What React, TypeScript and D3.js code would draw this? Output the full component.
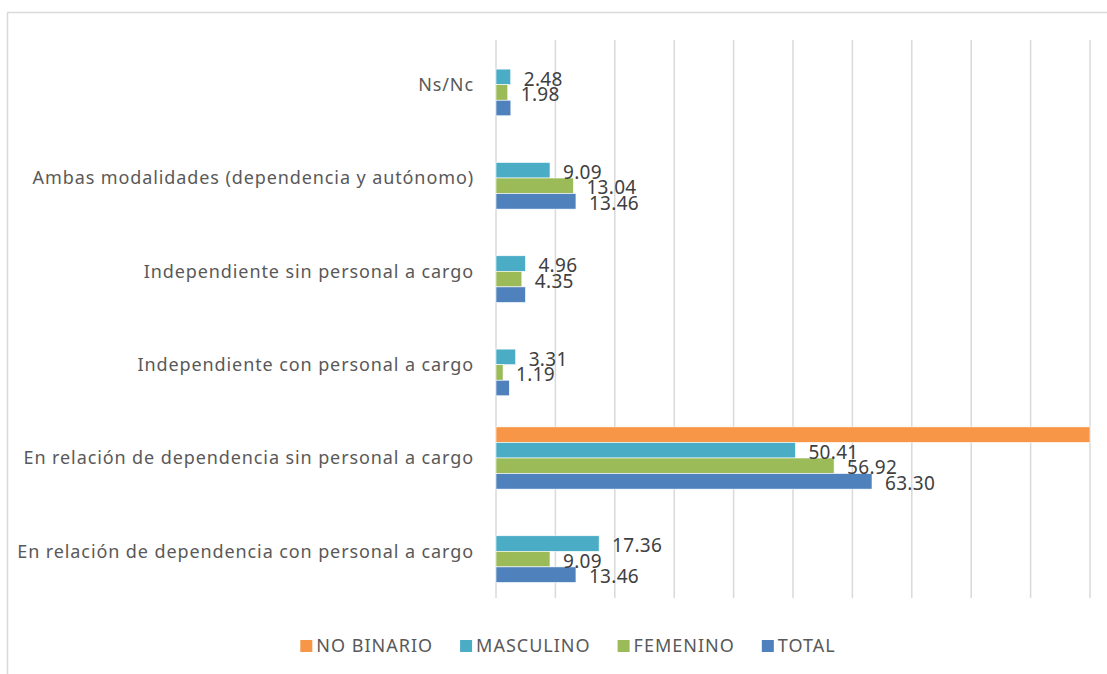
import React, { useEffect, useRef } from 'react';
import * as d3 from 'd3';

// categories, top to bottom as drawn
const categories = [
    'Ns/Nc',
    'Ambas modalidades (dependencia y autónomo)',
    'Independiente sin personal a cargo',
    'Independiente con personal a cargo',
    'En relación de dependencia sin personal a cargo',
    'En relación de dependencia con personal a cargo',
];

const seriesNames = ['NO BINARIO', 'MASCULINO', 'FEMENINO', 'TOTAL'];
const seriesColors = ['#F79646', '#4BACC6', '#9BBB59', '#4F81BD'];

const noBinario = [0, 0, 0, 0, 100, 0];
const masculino = [2.48, 9.09, 4.96, 3.31, 50.41, 17.36];
const femenino = [1.98, 13.04, 4.35, 1.19, 56.92, 9.09];
const total = [2.5, 13.46, 4.96, 2.24, 63.3, 13.46];

// which data labels the original chart shows
const showNoBinario = [false, false, false, false, false, false];
const showMasculino = [true, true, true, true, true, true];
const showFemenino = [true, true, true, true, true, true];
const showTotal = [false, true, false, false, true, true];

const xTicks = [0, 10, 20, 30, 40, 50, 60, 70, 80, 90, 100];

const W = 1107;
const H = 674;
const FONT = '"Noto Sans", sans-serif';

const App = () => {
    const ref = useRef<SVGSVGElement>(null);

    useEffect(() => {
        const svg = d3.select(ref.current);
        svg.selectAll('*').remove();

        const values = [noBinario, masculino, femenino, total];
        const shown = [showNoBinario, showMasculino, showFemenino, showTotal];

        // outer chart border
        svg.append('rect')
            .attr('x', 7.5).attr('y', 12.5)
            .attr('width', W + 10).attr('height', H + 10)
            .attr('fill', '#fff')
            .attr('stroke', '#d9d9d9').attr('stroke-width', 1.5);

        const xScale = d3.scaleLinear().domain([0, 100]).range([496, 1090]);
        const yScale = d3.scaleBand()
            .domain(categories)
            .range([38, 598])
            .paddingInner(1 / 3)
            .paddingOuter(1 / 6);
        const subScale = d3.scaleBand()
            .domain(seriesNames)
            .range([0, yScale.bandwidth()]);

        // gridlines
        svg.append('g').selectAll('line')
            .data(xTicks)
            .enter()
            .append('line')
            .attr('x1', d => xScale(d)).attr('x2', d => xScale(d))
            .attr('y1', 40).attr('y2', 598)
            .attr('stroke', '#d9d9d9').attr('stroke-width', 1.5);

        // category labels
        svg.append('g').selectAll('text')
            .data(categories)
            .enter()
            .append('text')
            .attr('x', 474)
            .attr('y', d => yScale(d)! + yScale.bandwidth() / 2)
            .attr('dy', '0.35em')
            .attr('text-anchor', 'end')
            .attr('font-family', FONT).attr('font-size', 18)
            .attr('letter-spacing', 0.9)
            .attr('fill', '#595959')
            .text(d => d);

        // bars
        seriesNames.forEach((s, si) => {
            const data = values[si].map((v, i) => ({ v, i })).filter(d => d.v > 0);
            svg.append('g').selectAll('rect')
                .data(data)
                .enter()
                .append('rect')
                .attr('x', xScale(0))
                .attr('y', d => yScale(categories[d.i])! + subScale(s)!)
                .attr('width', d => xScale(d.v) - xScale(0))
                .attr('height', subScale.bandwidth())
                .attr('fill', seriesColors[si])
                .attr('stroke', '#fff').attr('stroke-width', 0.6);
        });

        // data labels
        seriesNames.forEach((s, si) => {
            const data = values[si].map((v, i) => ({ v, i })).filter(d => shown[si][d.i]);
            svg.append('g').selectAll('text')
                .data(data)
                .enter()
                .append('text')
                .attr('x', d => xScale(d.v) + 13)
                .attr('y', d => yScale(categories[d.i])! + subScale(s)! + subScale.bandwidth() / 2 + 2)
                .attr('dy', '0.35em')
                .attr('font-family', FONT).attr('font-size', 19)
                .attr('letter-spacing', 0.3)
                .attr('fill', '#404040')
                .text(d => d.v.toFixed(2));
        });

        // legend
        const legend = svg.append('g');
        let cx = 0;
        seriesNames.forEach((s, si) => {
            const item = legend.append('g').attr('transform', `translate(${cx},0)`);
            item.append('rect')
                .attr('x', 0).attr('y', -6)
                .attr('width', 12).attr('height', 12)
                .attr('fill', seriesColors[si]);
            const t = item.append('text')
                .attr('x', 16).attr('y', 0)
                .attr('dy', '0.35em')
                .attr('font-family', FONT).attr('font-size', 18)
                .attr('letter-spacing', 1)
                .attr('fill', '#595959')
                .text(s);
            const tw = (t.node() as SVGTextElement).getComputedTextLength();
            cx += 16 + tw + 27;
        });
        const legendW = cx - 27;
        legend.attr('transform', `translate(${568 - legendW / 2},646)`);
    }, []);

    return (
        <svg
            ref={ref}
            width={W}
            height={H}
            style={{ position: 'absolute', left: 0, top: 0, background: '#fff' }}
        />
    );
};

export default App;
